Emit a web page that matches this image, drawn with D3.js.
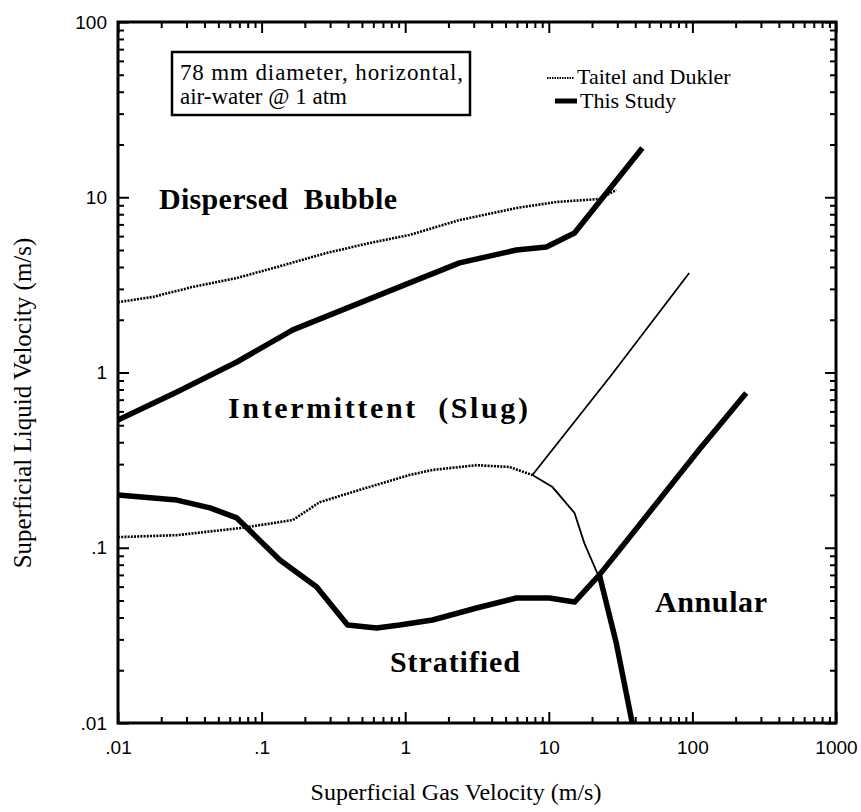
<!DOCTYPE html>
<html>
<head>
<meta charset="utf-8">
<script src="https://cdn.jsdelivr.net/npm/d3@7"></script>
<style>
  body { margin: 0; background: #fff; }
  svg text { fill: #000; }
</style>
</head>
<body>
<div id="chart"></div>
<script>
// tick values / labels
const gasTicks = [0.01, 0.1, 1, 10, 100, 1000];
const gasTickLabels = ['.01', '.1', '1', '10', '100', '1000'];
const liqTicks = [0.01, 0.1, 1, 10, 100];
const liqTickLabels = ['.01', '.1', '1', '10', '100'];

// Taitel and Dukler boundaries [gas, liquid] m/s
const tdBubble = [[0.01, 2.52], [0.0175, 2.7], [0.0332, 3.08], [0.0672, 3.46], [0.128, 4.0],
  [0.284, 4.81], [0.565, 5.48], [1.07, 6.09], [2.39, 7.41], [5.95, 8.68], [11.3, 9.4],
  [22.5, 9.77], [29.5, 11.0]];
const tdStratified = [[0.01, 0.115], [0.0257, 0.118], [0.074, 0.13], [0.165, 0.144],
  [0.254, 0.182], [0.482, 0.214], [1.07, 0.26], [1.55, 0.278], [3.14, 0.296], [5.32, 0.289],
  [7.69, 0.26]];
const tdStratAnnular = [[7.69, 0.26], [10.6, 0.222], [15.1, 0.158], [17.7, 0.106],
  [22.5, 0.0672], [29.5, 0.0286], [38.1, 0.01]];
const tdIntAnnular = [[7.69, 0.26], [27.3, 0.968], [95, 3.7]];

// This Study boundaries
const tsBubble = [[0.01, 0.536], [0.0257, 0.774], [0.0672, 1.148], [0.165, 1.75],
  [0.914, 3.08], [2.39, 4.22], [5.95, 5.0], [9.62, 5.2], [15.1, 6.25], [44.8, 19.1]];
const tsStratified = [[0.01, 0.2], [0.0257, 0.187], [0.0437, 0.169], [0.0672, 0.148],
  [0.134, 0.0851], [0.242, 0.0597], [0.397, 0.0362], [0.632, 0.0348], [0.914, 0.0362],
  [1.55, 0.0387], [3.14, 0.0453], [5.95, 0.0517], [10.1, 0.0517], [15.1, 0.049],
  [22.5, 0.07], [31.0, 0.097], [111, 0.361], [237, 0.764]];
const tsStratAnnular = [[22.5, 0.07], [29.5, 0.0286], [38.1, 0.01]];

const W = 861, H = 812;
const svg = d3.select('#chart').append('svg')
  .attr('width', W).attr('height', H);

const x = d3.scaleLog().domain([0.01, 1000]).range([118, 836]);
const y = d3.scaleLog().domain([0.01, 100]).range([723, 22]);

const serif = '"Liberation Serif", "Times New Roman", serif';
const sans = '"Liberation Sans", Arial, sans-serif';

// minor tick values 2..9 of every decade
function minors(lo, hi) {
  const out = [];
  for (let p = lo; p < hi; p++) {
    for (let k = 2; k <= 9; k++) out.push(k * Math.pow(10, p));
  }
  return out;
}
const gasMinor = minors(-2, 3);
const liqMinor = minors(-2, 2);

function drawAxis(axisFn, scale, transform, majors, labels, minorVals, showLabels, pad) {
  const gMin = svg.append('g').attr('transform', transform)
    .call(axisFn(scale).tickValues(minorVals).tickSize(-6).tickFormat(''));
  gMin.select('.domain').remove();
  const gMaj = svg.append('g').attr('transform', transform)
    .call(axisFn(scale).tickValues(majors).tickSize(-11).tickPadding(pad)
      .tickFormat((d, i) => showLabels ? labels[i] : ''));
  gMaj.select('.domain').remove();
  svg.selectAll('.tick line').attr('stroke', '#000').attr('stroke-width', 2);
  gMaj.selectAll('text').style('font-family', sans).style('font-size', '19px');
}

drawAxis(d3.axisBottom, x, 'translate(0,723)', gasTicks, gasTickLabels, gasMinor, true, 18);
drawAxis(d3.axisTop, x, 'translate(0,22)', gasTicks, gasTickLabels, gasMinor, false, 0);
drawAxis(d3.axisLeft, y, 'translate(118,0)', liqTicks, liqTickLabels, liqMinor, true, 11);
drawAxis(d3.axisRight, y, 'translate(836,0)', liqTicks, liqTickLabels, liqMinor, false, 0);

// frame
svg.append('rect')
  .attr('x', 118).attr('y', 22)
  .attr('width', 836 - 118).attr('height', 723 - 22)
  .attr('fill', 'none').attr('stroke', '#000').attr('stroke-width', 3);

const line = d3.line().x(d => x(d[0])).y(d => y(d[1]));

// Taitel and Dukler
[tdBubble, tdStratified].forEach(data => {
  svg.append('path').datum(data).attr('d', line)
    .attr('fill', 'none').attr('stroke', '#000')
    .attr('stroke-width', 2.6).attr('stroke-dasharray', '2,1.2');
});
[tdStratAnnular, tdIntAnnular].forEach(data => {
  svg.append('path').datum(data).attr('d', line)
    .attr('fill', 'none').attr('stroke', '#000').attr('stroke-width', 1.8);
});

// This Study
[tsBubble, tsStratified, tsStratAnnular].forEach(data => {
  svg.append('path').datum(data).attr('d', line)
    .attr('fill', 'none').attr('stroke', '#000')
    .attr('stroke-width', 5.5).attr('stroke-linejoin', 'round');
});

// region labels
const regions = [
  { text: 'Dispersed  Bubble', x: 159, y: 209, len: 238 },
  { text: 'Intermittent  (Slug)', x: 228, y: 418, len: 300 },
  { text: 'Stratified', x: 390, y: 672, len: 130 },
  { text: 'Annular', x: 655, y: 612, len: 112 }
];
regions.forEach(r => {
  svg.append('text')
    .attr('x', r.x).attr('y', r.y)
    .attr('textLength', r.len).attr('lengthAdjust', 'spacing')
    .style('white-space', 'pre')
    .style('font-family', serif).style('font-size', '30px').style('font-weight', 'bold')
    .text(r.text);
});

// info box
svg.append('rect')
  .attr('x', 172).attr('y', 52).attr('width', 298).attr('height', 63)
  .attr('fill', '#fff').attr('stroke', '#000').attr('stroke-width', 2.5);
svg.append('text').attr('x', 180).attr('y', 80)
  .attr('textLength', 283).attr('lengthAdjust', 'spacing')
  .style('font-family', serif).style('font-size', '23px')
  .text('78 mm diameter, horizontal,');
svg.append('text').attr('x', 180).attr('y', 104)
  .style('font-family', serif).style('font-size', '23px')
  .text('air-water @ 1 atm');

// legend
svg.append('line').attr('x1', 547).attr('x2', 574).attr('y1', 78).attr('y2', 78)
  .attr('stroke', '#000').attr('stroke-width', 2.2).attr('stroke-dasharray', '1.5,1');
svg.append('text').attr('x', 577).attr('y', 84)
  .style('font-family', serif).style('font-size', '22px')
  .text('Taitel and Dukler');
svg.append('line').attr('x1', 555).attr('x2', 577).attr('y1', 101).attr('y2', 101)
  .attr('stroke', '#000').attr('stroke-width', 5);
svg.append('text').attr('x', 580).attr('y', 108)
  .style('font-family', serif).style('font-size', '22px')
  .text('This Study');

// axis titles
svg.append('text')
  .attr('x', 456).attr('y', 800)
  .attr('text-anchor', 'middle')
  .style('font-family', serif).style('font-size', '24px')
  .text('Superficial Gas Velocity (m/s)');
svg.append('text')
  .attr('transform', 'translate(31,403) rotate(-90)')
  .attr('text-anchor', 'middle')
  .style('font-family', serif).style('font-size', '25px')
  .text('Superficial Liquid Velocity (m/s)');
</script>
</body>
</html>
